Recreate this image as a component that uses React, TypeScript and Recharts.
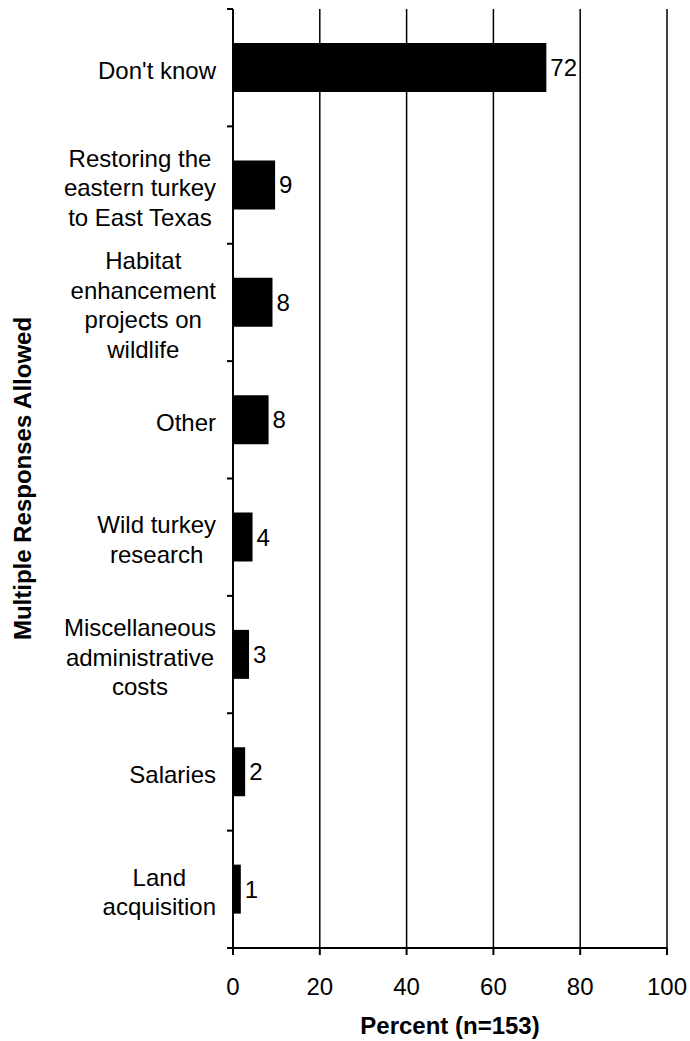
import { BarChart, Bar, XAxis, YAxis, CartesianGrid, LabelList, Label } from 'recharts'

// survey answers, top to bottom
const categories = [
  "Don't know",
  'Restoring the\neastern turkey\nto East Texas',
  'Habitat\nenhancement\nprojects on\nwildlife',
  'Other',
  'Wild turkey\nresearch',
  'Miscellaneous\nadministrative\ncosts',
  'Salaries',
  'Land\nacquisition',
]
// bar lengths
const percents = [72.2, 9.7, 9.1, 8.2, 4.5, 3.7, 2.8, 1.8]
// the numbers printed next to the bars
const valueLabels = ['72', '9', '8', '8', '4', '3', '2', '1']
const xTicks = [0, 20, 40, 60, 80, 100]

const data = categories.map((name, i) => ({
  name,
  percent: percents[i],
  label: valueLabels[i],
}))

const FONT = '"Liberation Sans", Arial, Helvetica, sans-serif'
const FONT_SIZE = 24
const W = 690
const H = 1041
const MARGIN = { top: 9, right: 23, bottom: 0, left: 8 }
const Y_WIDTH = 225
const X_HEIGHT = 93
const PLOT_H = H - MARGIN.top - MARGIN.bottom - X_HEIGHT
const BAND = PLOT_H / categories.length
const LINE_H = 29.5

let ctx: CanvasRenderingContext2D | null = null
function measure(s: string) {
  if (!ctx) {
    ctx = document.createElement('canvas').getContext('2d')
  }
  if (!ctx) return s.length * FONT_SIZE * 0.5
  ctx.font = `${FONT_SIZE}px ${FONT}`
  return ctx.measureText(s).width
}

function CategoryTick(props: any) {
  const { x, y, payload, index } = props
  const lines = String(payload.value).split('\n')
  const w = Math.max(...lines.map(measure))
  const right = x - 9
  const cx = right - w / 2
  const axisX = x + 8
  const first = y + 11 - ((lines.length - 1) * LINE_H) / 2
  return (
    <g>
      <line x1={axisX - 6} x2={axisX} y1={y - BAND / 2} y2={y - BAND / 2} stroke="#000" strokeWidth={2} />
      {index === categories.length - 1 && (
        <line x1={axisX - 6} x2={axisX} y1={y + BAND / 2} y2={y + BAND / 2} stroke="#000" strokeWidth={2} />
      )}
      <text x={cx} y={first} textAnchor="middle" fontSize={FONT_SIZE} fill="#000" fontFamily={FONT}>
        {lines.map((l, i) => (
          <tspan key={i} x={cx} y={first + i * LINE_H}>
            {l}
          </tspan>
        ))}
      </text>
    </g>
  )
}

function YTitle(props: any) {
  const { viewBox } = props
  const cx = viewBox.x + 23
  const cy = viewBox.y + viewBox.height / 2
  return (
    <text
      x={cx}
      y={cy}
      transform={`rotate(-90 ${cx} ${cy})`}
      textAnchor="middle"
      fontSize={FONT_SIZE}
      fontWeight="bold"
      fill="#000"
      fontFamily={FONT}
    >
      Multiple Responses Allowed
    </text>
  )
}

export default function App() {
  return (
    <div style={{ position: 'absolute', left: 0, top: 0, width: W, height: H, fontFamily: FONT, overflow: 'hidden' }}>
      <BarChart width={W} height={H} data={data} layout="vertical" margin={MARGIN}>
        <CartesianGrid horizontal={false} stroke="#000" strokeWidth={1.5} />
        <XAxis
          type="number"
          domain={[0, 100]}
          ticks={xTicks}
          height={X_HEIGHT}
          tickSize={7}
          tickMargin={23}
          axisLine={{ stroke: '#000', strokeWidth: 2 }}
          tickLine={{ stroke: '#000', strokeWidth: 2 }}
          tick={{ fill: '#000', fontSize: FONT_SIZE, fontFamily: FONT }}
        >
          <Label
            value="Percent (n=153)"
            position="insideBottom"
            offset={7}
            fill="#000"
            fontSize={FONT_SIZE}
            fontWeight="bold"
            fontFamily={FONT}
          />
        </XAxis>
        <YAxis
          type="category"
          dataKey="name"
          width={Y_WIDTH}
          interval={0}
          tickLine={false}
          axisLine={{ stroke: '#000', strokeWidth: 2 }}
          tick={<CategoryTick />}
        >
          <Label content={<YTitle />} />
        </YAxis>
        <Bar dataKey="percent" fill="#000" barSize={49} isAnimationActive={false}>
          <LabelList
            dataKey="label"
            position="right"
            offset={4}
            fill="#000"
            fontSize={FONT_SIZE}
            fontFamily={FONT}
          />
        </Bar>
      </BarChart>
    </div>
  )
}
